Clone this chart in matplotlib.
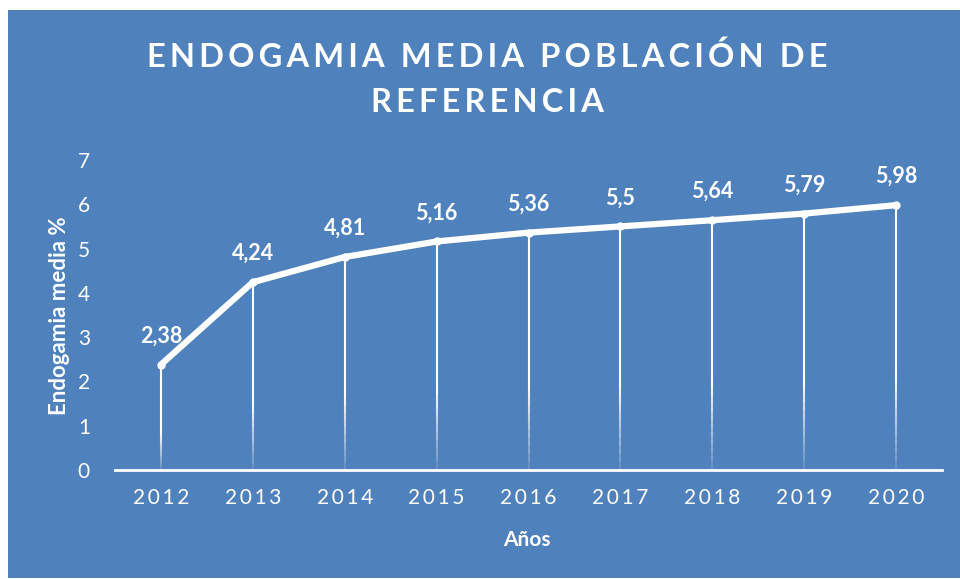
import matplotlib.pyplot as plt
import numpy as np

years = ['2012', '2013', '2014', '2015', '2016', '2017', '2018', '2019', '2020']
endogamia = [2.38, 4.24, 4.81, 5.16, 5.36, 5.5, 5.64, 5.79, 5.98]
labels = ['2,38', '4,24', '4,81', '5,16', '5,36', '5,5', '5,64', '5,79', '5,98']

bg = '#4f81bd'
plt.rcParams['font.family'] = ['Lato', 'DejaVu Sans']


def spaced(s, sep='\u2009'):
    return sep.join(s)


fig = plt.figure(figsize=(9.6, 5.79), dpi=100)
fig.patch.set_facecolor('white')
# blue chart area
fig.patches.append(plt.Rectangle((8 / 960, 1 / 579), 1, 568 / 579, transform=fig.transFigure,
                                 facecolor=bg, edgecolor='none', zorder=-1))

ax = fig.add_axes([115 / 960, 1 - 470 / 579, 827 / 960, 310 / 579])
ax.set_facecolor('none')
x = np.arange(len(years))

# drop lines fading toward the axis
for xi, yi in zip(x, endogamia):
    n = 30
    ys = np.linspace(0, yi, n + 1)
    for k in range(n):
        a = min(1.0, 0.15 + k / n * 2.5)
        ax.plot([xi, xi], [ys[k], ys[k + 1]], color='white', lw=1.5, alpha=a,
                solid_capstyle='butt', zorder=2)

ax.plot(x, endogamia, color='white', lw=4.5, solid_capstyle='round',
        solid_joinstyle='round', zorder=3)
ax.plot(x, endogamia, 'o', color='white', ms=5, zorder=4)

for xi, yi, lab in zip(x, endogamia, labels):
    ax.annotate(lab, (xi, yi), xytext=(0, 13), textcoords='offset points',
                ha='center', va='bottom', color='white', fontsize=15.5, fontweight='bold')

ax.set_xlim(-0.5, len(years) - 0.5)
ax.set_ylim(0, 7)
ax.set_yticks(range(8))
ax.set_xticks(x)
ax.set_xticklabels([spaced(y) for y in years])
for s in ['top', 'right', 'left']:
    ax.spines[s].set_visible(False)
ax.spines['bottom'].set_color('white')
ax.spines['bottom'].set_linewidth(2)
ax.tick_params(axis='both', length=0, colors='white', labelsize=15)
ax.tick_params(axis='y', pad=18)
ax.tick_params(axis='x', pad=13)

fig.text(60 / 960, 1 - 316 / 579, 'Endogamia media %', rotation=90, ha='center', va='center',
         color='white', fontsize=16, fontweight='bold')
fig.text(527 / 960, 1 - 540 / 579, 'Años', ha='center', va='center',
         color='white', fontsize=15, fontweight='bold')

fig.text(487 / 960, 1 - 57 / 579, spaced('ENDOGAMIA MEDIA POBLACIÓN DE'), ha='center',
         va='center', color='white', fontsize=23.5, fontweight='bold')
fig.text(487 / 960, 1 - 103 / 579, spaced('REFERENCIA'), ha='center', va='center',
         color='white', fontsize=23.5, fontweight='bold')

fig.savefig('out.png', dpi=100, facecolor='white')
